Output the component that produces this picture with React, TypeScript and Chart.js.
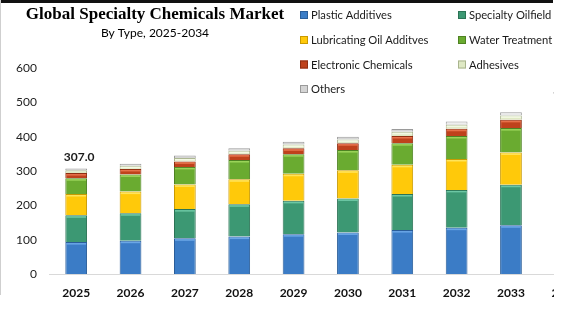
import { useEffect, useRef } from "react";
import { Chart, registerables } from "chart.js";

Chart.register(...registerables);

const TITLE = "Global Specialty Chemicals Market";
const SUBTITLE = "By Type, 2025-2034";

const years = ["2025", "2026", "2027", "2028", "2029", "2030", "2031", "2032", "2033", "2034"];
const plasticAdditives = [93, 97, 104, 109, 116, 121, 128, 135, 142, 150];
const specialtyOilfield = [78, 80, 85, 94, 97, 99, 105, 110, 118, 126];
const lubricatingOilAdditives = [62, 63, 72, 73, 79, 82, 85, 90, 94, 101];
const waterTreatment = [46, 50, 51, 56, 57, 59, 63, 67, 71, 76];
const electronicChemicals = [15, 16, 16, 17, 17, 20, 21, 21, 24, 26];
const adhesives = [8, 9, 10, 10, 11, 11, 12, 12, 13, 14];
const others = [5, 6, 7, 7, 8, 8, 8, 9, 9, 11];
const yMin = 0;
const yMax = 600;
const yStep = 100;
const labeledYears = ["2025", "2034"];

const series = [
  { label: "Plastic Additives", data: plasticAdditives, color: "#3b7cc6", border: "#2a5d99", hi: "#6aa6e6" },
  { label: "Specialty Oilfield", data: specialtyOilfield, color: "#3c9873", border: "#2b7355", hi: "#6cc7a4" },
  { label: "Lubricating Oil Additves", data: lubricatingOilAdditives, color: "#ffc90a", border: "#c99a00", hi: "#ffe45a" },
  { label: "Water Treatment", data: waterTreatment, color: "#6aab30", border: "#4e8222", hi: "#9bd45a" },
  { label: "Electronic Chemicals", data: electronicChemicals, color: "#bf421c", border: "#8f2e12", hi: "#e7714a" },
  { label: "Adhesives", data: adhesives, color: "#dfe9c4", border: "#a9b48e", hi: "#f3f8e4" },
  { label: "Others", data: others, color: "#d4d4d4", border: "#9a9a9a", hi: "#efefef" },
];

const SANS = "Lato, 'Open Sans', sans-serif";

const overlayPlugin = {
  id: "overlay",
  afterDatasetsDraw(chart: any) {
    const ctx = chart.ctx;
    chart.data.datasets.forEach((ds: any, di: number) => {
      const meta = chart.getDatasetMeta(di);
      meta.data.forEach((bar: any) => {
        const { x, y, base, width } = bar.getProps(["x", "y", "base", "width"], true);
        const h = base - y;
        if (h < 3) return;
        ctx.save();
        ctx.fillStyle = ds.hi;
        ctx.fillRect(x - width / 2 + 1, y + 1, width - 2, 1.5);
        ctx.restore();
      });
    });
    const xs = chart.scales.x;
    const ys = chart.scales.y;
    ctx.save();
    ctx.font = `bold 12px ${SANS}`;
    ctx.fillStyle = "#1a1a1a";
    ctx.textAlign = "center";
    ctx.textBaseline = "bottom";
    labeledYears.forEach((yr) => {
      const i = years.indexOf(yr);
      const total = series.reduce((s, se) => s + se.data[i], 0);
      const px = xs.getPixelForValue(i);
      const py = ys.getPixelForValue(total);
      ctx.fillText(total.toFixed(1), px + 3, py - 5);
    });
    ctx.restore();
  },
  afterDraw(chart: any) {
    const ctx = chart.ctx;
    ctx.save();
    ctx.fillStyle = "#000";
    ctx.textAlign = "center";
    ctx.textBaseline = "middle";
    ctx.font = "bold 17px 'Liberation Serif', serif";
    ctx.fillText(TITLE, 155, 15);
    ctx.font = `12px ${SANS}`;
    ctx.fillText(SUBTITLE, 155, 33);

    const cols = [300, 458];
    const rows = [15, 40, 64.5, 89];
    ctx.font = `11.2px ${SANS}`;
    ctx.textAlign = "left";
    chart.data.datasets.forEach((ds: any, i: number) => {
      const cx = cols[i % 2];
      const cy = rows[Math.floor(i / 2)];
      ctx.fillStyle = ds.backgroundColor;
      ctx.fillRect(cx, cy - 4, 8, 8);
      ctx.strokeStyle = ds.borderColor;
      ctx.lineWidth = 1;
      ctx.strokeRect(cx + 0.5, cy - 3.5, 7, 7);
      ctx.fillStyle = "#1a1a1a";
      ctx.fillText(ds.label, cx + 11, cy + 0.5);
    });
    ctx.restore();
  },
};

export default function App() {
  const ref = useRef<HTMLCanvasElement | null>(null);

  useEffect(() => {
    if (!ref.current) return;
    const chart = new Chart(ref.current, {
      type: "bar",
      data: {
        labels: years,
        datasets: series.map((s) => ({
          label: s.label,
          data: s.data,
          backgroundColor: s.color,
          borderColor: s.border,
          borderWidth: 1,
          hi: s.hi,
          stack: "total",
          barPercentage: 0.4,
          categoryPercentage: 1,
        })) as any,
      },
      options: {
        animation: false,
        responsive: false,
        layout: { padding: { top: 68, left: 0, right: 7.5, bottom: 0 } },
        plugins: {
          legend: { display: false },
          title: { display: false },
          tooltip: { enabled: false },
        },
        scales: {
          x: {
            stacked: true,
            grid: { display: false, drawTicks: false },
            border: { display: true, color: "#d9d9d9", width: 1 },
            ticks: { color: "#111", font: { family: SANS, size: 12, weight: "bold" }, padding: 12 },
            afterFit: (s: any) => {
              s.height = 61;
            },
          },
          y: {
            stacked: true,
            min: yMin,
            max: yMax,
            grid: { display: false, drawTicks: false },
            border: { display: false },
            ticks: { stepSize: yStep, color: "#222", font: { family: SANS, size: 12 }, padding: 12 },
            afterFit: (s: any) => {
              s.width = 49;
            },
          },
        },
      },
      plugins: [overlayPlugin],
    });
    return () => chart.destroy();
  }, []);

  return (
    <div
      style={{
        position: "fixed",
        left: 0,
        top: 0,
        width: 554,
        height: 335,
        overflow: "hidden",
        background: "#fff",
      }}
    >
      <canvas ref={ref} width={600} height={335} style={{ position: "absolute", left: 0, top: 0 }} />
      <div style={{ position: "absolute", left: 0, top: 0, width: 553, height: 3, background: "#111" }} />
      <div style={{ position: "absolute", left: 0, top: 0, width: 1, height: 295, background: "#cfcfcf" }} />
    </div>
  );
}
